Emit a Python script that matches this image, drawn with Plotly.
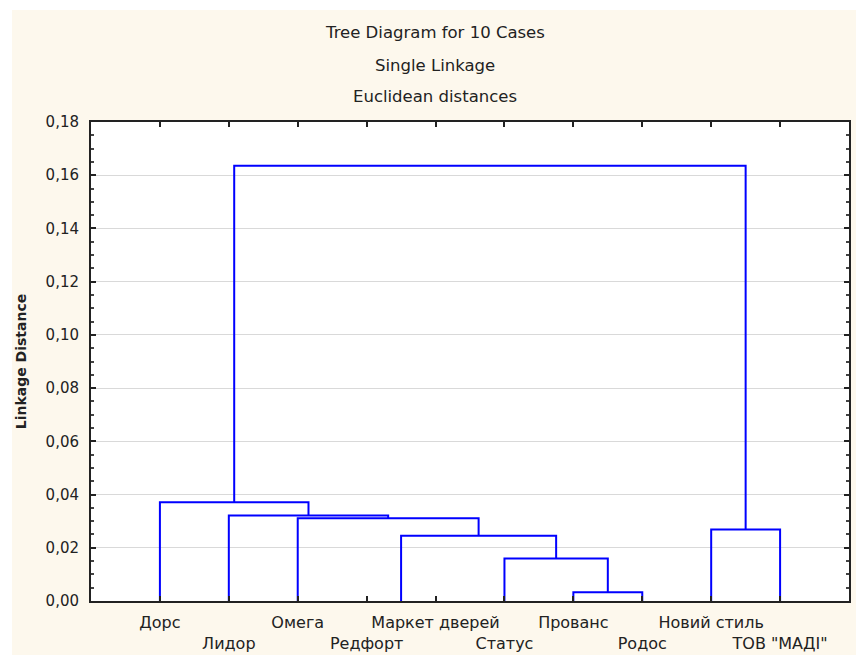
import plotly.graph_objects as go

# ---- data ----
leaves = ["Дорс", "Лидор", "Омега", "Редфорт", "Маркет дверей",
          "Статус", "Прованс", "Родос", "Новий стиль", 'ТОВ "МАДІ"']
# linkage (scipy-like): leaves are ids 0..9, merge k creates id 10+k
merge_left = [3, 6, 5, 10, 2, 1, 8, 0, 17]
merge_right = [4, 7, 11, 12, 13, 14, 9, 15, 16]
merge_height = [0.0, 0.0033, 0.0160, 0.0245, 0.0311, 0.0321, 0.0269, 0.0371, 0.1636]
y_tick_values = [0.00, 0.02, 0.04, 0.06, 0.08, 0.10, 0.12, 0.14, 0.16, 0.18]

titles = ["Tree Diagram for 10 Cases", "Single Linkage", "Euclidean distances"]

# ---- build dendrogram paths from the linkage ----
pos = {i: i + 1 for i in range(len(leaves))}
hgt = {i: 0.0 for i in range(len(leaves))}
xs, ys = [], []
for k, (a, b, h) in enumerate(zip(merge_left, merge_right, merge_height)):
    xa, xb = pos[a], pos[b]
    if h > 0:  # zero-distance joins lie on the axis and are not drawn
        xs += [xa, xa, xb, xb, None]
        ys += [hgt[a], h, h, hgt[b], None]
    nid = len(leaves) + k
    pos[nid] = (xa + xb) / 2
    hgt[nid] = h

FONT = "DejaVu Sans"
TXT = "#222222"

fig = go.Figure()
fig.add_trace(go.Scatter(x=xs, y=ys, mode="lines",
                         line=dict(color="#0000ff", width=2),
                         hoverinfo="skip", showlegend=False))

ticktext = [n if i % 2 == 0 else "<br>" + n for i, n in enumerate(leaves)]

W, H = 856, 655
L, R, T, B = 91, 7, 122, 54
pw, ph = W - L - R, H - T - B

def px2paper(px, py):
    return (px - L) / pw, (H - B - py) / ph

annotations = []
for text, cy in zip(titles, [33, 65, 96]):
    xp, yp = px2paper(435, cy)
    annotations.append(dict(text=text, x=xp, y=yp, xref="paper", yref="paper",
                            xanchor="center", yanchor="middle", showarrow=False,
                            font=dict(family=FONT, size=16.5, color=TXT)))

shapes = []
# white strips at top and left of the page
x0, y0 = px2paper(0, 0)
x1, y1 = px2paper(W, 10)
shapes.append(dict(type="rect", xref="paper", yref="paper", x0=x0, x1=x1, y0=y1, y1=y0,
                   fillcolor="white", line=dict(width=0), layer="below"))
x0, y0 = px2paper(0, 0)
x1, y1 = px2paper(12, H)
shapes.append(dict(type="rect", xref="paper", yref="paper", x0=x0, x1=x1, y0=y1, y1=y0,
                   fillcolor="white", line=dict(width=0), layer="below"))

fig.update_layout(
    width=W, height=H,
    margin=dict(l=L, r=R, t=T, b=B, pad=0, autoexpand=False),
    paper_bgcolor="#fdf8ed",
    plot_bgcolor="white",
    separators=", ",
    showlegend=False,
    annotations=annotations,
    shapes=shapes,
    font=dict(family=FONT, size=15, color=TXT),
)
fig.update_xaxes(
    range=[0, 11], tickmode="array",
    tickvals=list(range(1, len(leaves) + 1)), ticktext=ticktext,
    tickangle=0, automargin=False, ticklabelstandoff=6,
    ticks="inside", ticklen=5, tickwidth=1.5, tickcolor="#222",
    showline=True, linecolor="#222", linewidth=2, mirror="ticks",
    showgrid=False, zeroline=False,
    tickfont=dict(family=FONT, size=16, color=TXT),
)
fig.update_yaxes(
    range=[0, 0.18], tickmode="array", tickvals=y_tick_values,
    tickformat=".2f", automargin=False, ticklabelstandoff=7,
    ticks="inside", ticklen=5, tickwidth=1.5, tickcolor="#222",
    minor=dict(dtick=0.005, ticks="inside", ticklen=3, tickcolor="#444", showgrid=False),
    showline=True, linecolor="#222", linewidth=2, mirror="ticks",
    showgrid=True, gridcolor="#d9d9d9", gridwidth=1,
    zeroline=False,
    tickfont=dict(family=FONT, size=15, color=TXT),
    title=dict(text="Linkage Distance", standoff=16,
               font=dict(family=FONT, size=14, color=TXT, weight="bold")),
)

fig.write_html("out.html")
